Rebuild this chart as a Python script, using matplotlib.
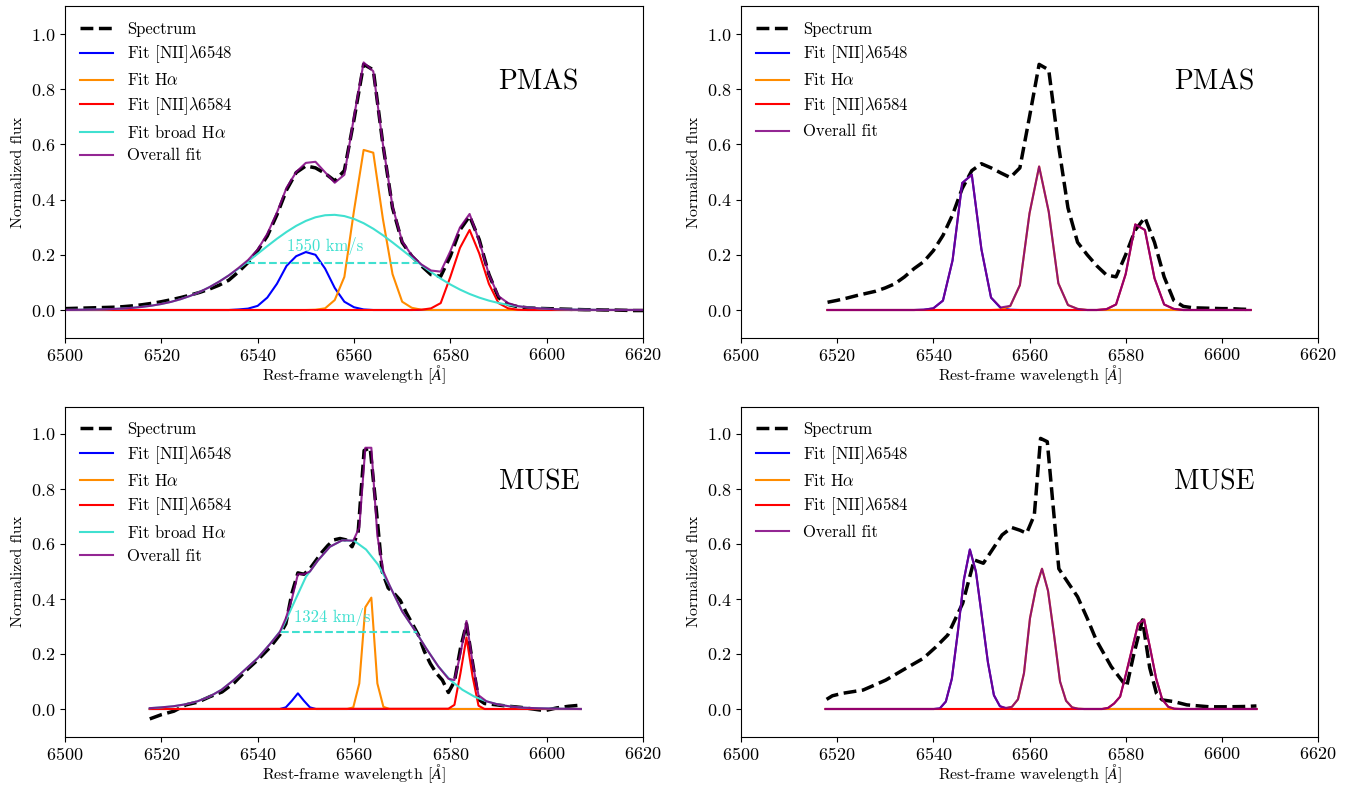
import matplotlib
matplotlib.use('Agg')
import matplotlib.pyplot as plt

plt.rcParams.update({
    'font.family': 'serif',
    'font.serif': ['cmr10'],
    'mathtext.fontset': 'cm',
    'axes.formatter.use_mathtext': True,
    'axes.unicode_minus': False,
})

# ---------------- PMAS, fit with broad component (top left) ----------------
wl_pmas = [6500 + 2 * i for i in range(61)]
spec_pmas = [0.005, 0.006, 0.007, 0.008, 0.009, 0.010, 0.012, 0.015, 0.019, 0.024,
             0.030, 0.037, 0.045, 0.054, 0.064, 0.076, 0.090, 0.108, 0.138, 0.172,
             0.215, 0.268, 0.345, 0.435, 0.498, 0.522, 0.515, 0.495, 0.468, 0.505,
             0.690, 0.890, 0.870, 0.600, 0.370, 0.245, 0.195, 0.160, 0.128, 0.122,
             0.195, 0.290, 0.340, 0.255, 0.130, 0.045, 0.020, 0.012, 0.008, 0.006,
             0.005, 0.004, 0.003, 0.002, 0.001, 0.001, 0.000, 0.000, -0.001, -0.002,
             -0.002]
broad_pmas = [0.0004, 0.0006, 0.0010, 0.0016, 0.0024, 0.0037, 0.0054, 0.0079, 0.0113, 0.0158,
              0.0218, 0.0294, 0.0392, 0.0512, 0.0657, 0.0829, 0.1028, 0.1252, 0.1498, 0.1762,
              0.2037, 0.2313, 0.2582, 0.2830, 0.3049, 0.3228, 0.3359, 0.3433, 0.3448, 0.3403,
              0.3300, 0.3145, 0.2945, 0.2709, 0.2449, 0.2176, 0.1899, 0.1629, 0.1373, 0.1137,
              0.0925, 0.0740, 0.0581, 0.0449, 0.0340, 0.0254, 0.0186, 0.0134, 0.0095, 0.0066,
              0.0045, 0.0030, 0.0020, 0.0013, 0.0008, 0.0005, 0.0003, 0.0002, 0.0001, 0.0001,
              0.0000]
overall_pmas = [0.0004, 0.0006, 0.0010, 0.0016, 0.0024, 0.0037, 0.0054, 0.0079, 0.0113, 0.0158,
                0.0218, 0.0294, 0.0392, 0.0512, 0.0657, 0.0829, 0.1028, 0.1253, 0.152, 0.181,
                0.219, 0.276, 0.353, 0.443, 0.500, 0.533, 0.537, 0.499, 0.461, 0.490,
                0.700, 0.897, 0.865, 0.601, 0.375, 0.248, 0.198, 0.165, 0.143, 0.139,
                0.213, 0.299, 0.348, 0.250, 0.129, 0.050, 0.025, 0.014, 0.0095, 0.0066,
                0.0045, 0.0030, 0.0020, 0.0013, 0.0008, 0.0005, 0.0003, 0.0002, 0.0001, 0.0001,
                0.0000]
n6548_pmas_x = [6500, 6534, 6536, 6538, 6540, 6542, 6544, 6546, 6548, 6550, 6552, 6554,
                6556, 6558, 6560, 6562, 6564, 6620]
n6548_pmas_y = [0, 0, 0.002, 0.005, 0.015, 0.045, 0.095, 0.16, 0.195, 0.21, 0.20, 0.15,
                0.08, 0.03, 0.01, 0.002, 0, 0]
ha_pmas_x = [6500, 6550, 6552, 6554, 6556, 6558, 6560, 6562, 6564, 6566, 6568, 6570,
             6572, 6574, 6576, 6620]
ha_pmas_y = [0, 0, 0.001, 0.006, 0.036, 0.12, 0.36, 0.58, 0.57, 0.33, 0.13, 0.03,
             0.008, 0.001, 0, 0]
n6584_pmas_x = [6500, 6572, 6574, 6576, 6578, 6580, 6582, 6584, 6586, 6588, 6590, 6592,
                6594, 6596, 6620]
n6584_pmas_y = [0, 0, 0.001, 0.006, 0.025, 0.12, 0.225, 0.29, 0.205, 0.095, 0.025, 0.006,
                0.001, 0, 0]
fwhm_pmas_x = [6537.7, 6573.3]
fwhm_pmas_y = [0.172, 0.172]
fwhm_pmas_txt = '1550 km/s'
fwhm_pmas_pos = (6554.0, 0.215)

# ---------------- PMAS, narrow only (top right) ----------------
wl_pmas_r = [6518 + 2 * i for i in range(45)]
spec_pmas_r = [0.028, 0.035, 0.043, 0.052, 0.060, 0.068, 0.080, 0.095, 0.120, 0.150,
               0.175, 0.215, 0.270, 0.345, 0.440, 0.505, 0.530, 0.515, 0.497, 0.480,
               0.515, 0.700, 0.890, 0.870, 0.600, 0.370, 0.245, 0.200, 0.160, 0.127,
               0.120, 0.200, 0.290, 0.335, 0.245, 0.120, 0.035, 0.013, 0.008, 0.007,
               0.006, 0.005, 0.005, 0.003, 0.002]
n6548_pmas_r_x = [6518, 6536, 6538, 6540, 6542, 6544, 6546, 6548, 6550, 6552, 6554, 6556, 6558, 6606]
n6548_pmas_r_y = [0, 0, 0.001, 0.006, 0.034, 0.18, 0.46, 0.49, 0.22, 0.045, 0.007, 0.001, 0, 0]
ha_pmas_r_x = [6518, 6552, 6554, 6556, 6558, 6560, 6562, 6564, 6566, 6568, 6570, 6572, 6606]
ha_pmas_r_y = [0, 0, 0.002, 0.014, 0.09, 0.35, 0.52, 0.356, 0.097, 0.018, 0.004, 0, 0]
n6584_pmas_r_x = [6518, 6574, 6576, 6578, 6580, 6582, 6584, 6586, 6588, 6590, 6592, 6606]
n6584_pmas_r_y = [0, 0, 0.003, 0.02, 0.13, 0.31, 0.29, 0.115, 0.02, 0.004, 0, 0]
overall_pmas_r_x = [6518, 6536, 6538, 6540, 6542, 6544, 6546, 6548, 6550, 6552, 6554, 6556,
                    6558, 6560, 6562, 6564, 6566, 6568, 6570, 6572, 6574, 6576, 6578, 6580,
                    6582, 6584, 6586, 6588, 6590, 6592, 6606]
overall_pmas_r_y = [0, 0, 0.001, 0.006, 0.034, 0.18, 0.46, 0.49, 0.22, 0.045, 0.009, 0.015,
                    0.09, 0.35, 0.52, 0.356, 0.097, 0.018, 0.004, 0, 0, 0.003, 0.02, 0.13,
                    0.31, 0.29, 0.115, 0.02, 0.004, 0, 0]

# ---------------- MUSE, fit with broad component (bottom left) ----------------
spec_muse_x = [6517.6, 6520.1, 6522.6, 6525.1, 6527.6, 6530.1, 6532.6, 6535.1, 6537.6, 6540.1,
               6542.6, 6544.6, 6545.85, 6547.1, 6548.35, 6549.6, 6550.85, 6552.1, 6553.35,
               6554.6, 6555.85, 6557.1, 6558.35, 6559.6, 6560.85, 6562.1, 6563.35, 6564.6,
               6565.85, 6567.1, 6568.35, 6569.6, 6570.85, 6572.1, 6573.35, 6574.6, 6575.85,
               6577.1, 6578.35, 6579.6, 6580.85, 6582.1, 6583.35, 6584.6, 6585.85, 6587.1,
               6589.6, 6592.1, 6594.6, 6597.1, 6599.6, 6602.1, 6604.6, 6607.1]
spec_muse_y = [-0.036, -0.02, -0.008, 0.015, 0.025, 0.045, 0.062, 0.095, 0.14, 0.18,
               0.225, 0.27, 0.31, 0.42, 0.495, 0.49, 0.51, 0.54, 0.57,
               0.595, 0.615, 0.62, 0.615, 0.59, 0.64, 0.94, 0.95, 0.73,
               0.5, 0.44, 0.42, 0.395, 0.35, 0.31, 0.27, 0.21, 0.165,
               0.13, 0.105, 0.06, 0.1, 0.22, 0.31, 0.17, 0.035, 0.02,
               0.015, 0.01, 0.006, 0.0, -0.006, 0.004, 0.01, 0.014]
broad_muse_x = [6517.6, 6520, 6522.5, 6525, 6527.5, 6530, 6532.5, 6535, 6537.5, 6540,
                6542.5, 6545, 6547.5, 6550, 6552.5, 6555, 6557.5, 6560, 6562.5, 6565,
                6567.5, 6570, 6572.5, 6575, 6577.5, 6580, 6582.5, 6585, 6587.5, 6590,
                6592.5, 6595, 6597.5, 6600, 6602.5, 6607.1]
broad_muse_y = [0.003, 0.006, 0.010, 0.017, 0.028, 0.045, 0.07, 0.105, 0.145, 0.185,
                0.235, 0.29, 0.385, 0.48, 0.54, 0.59, 0.613, 0.612, 0.58, 0.525,
                0.445, 0.355, 0.29, 0.22, 0.155, 0.105, 0.07, 0.045, 0.028, 0.016,
                0.009, 0.005, 0.003, 0.002, 0.001, 0.0]
overall_muse_x = [6517.6, 6520, 6522.5, 6525, 6527.5, 6530, 6532.5, 6535, 6537.5, 6540,
                  6542.5, 6544.6, 6545.85, 6547.1, 6548.35, 6549.6, 6550.85, 6552.5, 6555,
                  6557.5, 6558.6, 6559.85, 6561.1, 6562.35, 6563.6, 6564.85, 6566.1, 6567.5,
                  6570, 6572.5, 6575, 6577.5, 6579.6, 6580.85, 6582.1, 6583.35, 6584.6,
                  6585.85, 6587.5, 6590, 6592.5, 6595, 6597.5, 6600, 6602.5, 6607.1]
overall_muse_y = [0.003, 0.006, 0.010, 0.017, 0.028, 0.045, 0.07, 0.105, 0.145, 0.185,
                  0.235, 0.28, 0.33, 0.40, 0.49, 0.49, 0.50, 0.54, 0.59,
                  0.613, 0.613, 0.612, 0.66, 0.95, 0.95, 0.63, 0.50, 0.445,
                  0.355, 0.29, 0.22, 0.155, 0.11, 0.105, 0.20, 0.32, 0.17,
                  0.05, 0.028, 0.016, 0.009, 0.005, 0.003, 0.002, 0.001, 0.0]
n6548_muse_x = [6517.6, 6544.6, 6545.85, 6547.1, 6548.35, 6549.6, 6550.85, 6552.1, 6607.1]
n6548_muse_y = [0, 0, 0.006, 0.03, 0.057, 0.03, 0.006, 0, 0]
ha_muse_x = [6517.6, 6558.6, 6559.85, 6561.1, 6562.35, 6563.6, 6564.85, 6566.1, 6567.35, 6607.1]
ha_muse_y = [0, 0, 0.006, 0.093, 0.37, 0.405, 0.093, 0.008, 0, 0]
n6584_muse_x = [6517.6, 6579.6, 6580.85, 6582.1, 6583.35, 6584.6, 6585.85, 6587.1, 6607.1]
n6584_muse_y = [0, 0.001, 0.015, 0.13, 0.26, 0.12, 0.012, 0, 0]
fwhm_muse_x = [6544.8, 6573.0]
fwhm_muse_y = [0.28, 0.28]
fwhm_muse_txt = '1324 km/s'
fwhm_muse_pos = (6555.4, 0.315)

# ---------------- MUSE, narrow only (bottom right) ----------------
spec_muse_r_x = [6517.8, 6519.0, 6521.1, 6525.4, 6527.5, 6530.1, 6534.0, 6537.9, 6540.5, 6543.0,
                 6546.1, 6548.5, 6550.4, 6552.3, 6554.3, 6556.3, 6558.0, 6559.4, 6561.0, 6562.3,
                 6563.7, 6566.1, 6568.0, 6570.0, 6572.0, 6573.9, 6577.0, 6580.2, 6581.7, 6583.5,
                 6585.0, 6586.4, 6587.6, 6590.0, 6592.7, 6597.4, 6601.3, 6604.5, 6607.2]
spec_muse_r_y = [0.035, 0.048, 0.057, 0.069, 0.085, 0.105, 0.145, 0.184, 0.225, 0.269,
                 0.384, 0.542, 0.53, 0.58, 0.633, 0.66, 0.65, 0.639, 0.705, 0.984,
                 0.972, 0.51, 0.46, 0.408, 0.33, 0.25, 0.154, 0.081, 0.2, 0.324,
                 0.15, 0.057, 0.033, 0.027, 0.015, 0.008, 0.008, 0.009, 0.011]
n6548_muse_r_x = [6517.6, 6540.1, 6541.35, 6542.6, 6543.85, 6545.1, 6546.35, 6547.6, 6548.85,
                  6550.1, 6551.35, 6552.6, 6553.85, 6555.1, 6556.35, 6607.2]
n6548_muse_r_y = [0, 0, 0.002, 0.027, 0.11, 0.28, 0.47, 0.58, 0.5,
                  0.336, 0.17, 0.05, 0.01, 0.002, 0, 0]
ha_muse_r_x = [6517.6, 6553.85, 6555.1, 6556.35, 6557.6, 6558.85, 6560.1, 6561.35, 6562.6,
               6563.85, 6565.1, 6566.35, 6567.6, 6568.85, 6570.1, 6571.35, 6607.2]
ha_muse_r_y = [0, 0, 0.002, 0.008, 0.035, 0.13, 0.33, 0.44, 0.51,
               0.43, 0.27, 0.1, 0.03, 0.006, 0.001, 0, 0]
n6584_muse_r_x = [6517.6, 6575.1, 6576.35, 6577.6, 6578.85, 6580.1, 6581.35, 6582.6, 6583.85,
                  6585.1, 6586.35, 6587.6, 6588.85, 6590.1, 6591.35, 6607.2]
n6584_muse_r_y = [0, 0, 0.004, 0.02, 0.045, 0.13, 0.22, 0.31, 0.325,
                  0.22, 0.11, 0.035, 0.008, 0.001, 0, 0]
overall_muse_r_x = [6517.6, 6540.1, 6541.35, 6542.6, 6543.85, 6545.1, 6546.35, 6547.6, 6548.85,
                    6550.1, 6551.35, 6552.6, 6553.85, 6555.1, 6556.35, 6557.6, 6558.85, 6560.1,
                    6561.35, 6562.6, 6563.85, 6565.1, 6566.35, 6567.6, 6568.85, 6570.1, 6571.35,
                    6575.1, 6576.35, 6577.6, 6578.85, 6580.1, 6581.35, 6582.6, 6583.85, 6585.1,
                    6586.35, 6587.6, 6588.85, 6590.1, 6591.35, 6607.2]
overall_muse_r_y = [0, 0, 0.002, 0.027, 0.11, 0.28, 0.47, 0.58, 0.5,
                    0.336, 0.17, 0.05, 0.01, 0.004, 0.008, 0.035, 0.13, 0.33,
                    0.44, 0.51, 0.43, 0.27, 0.1, 0.03, 0.006, 0.001, 0,
                    0, 0.004, 0.02, 0.045, 0.13, 0.22, 0.31, 0.325, 0.22,
                    0.11, 0.035, 0.008, 0.001, 0, 0]


def draw_panel(ax, spec, comps, overall, instrument, broad=None, fwhm=None):
    ax.plot(spec[0], spec[1], 'k--', lw=2.5, label='Spectrum')
    ax.plot(comps[0][0], comps[0][1], color='blue', lw=1.5,
            label=r'Fit $\mathrm{[NII]}\lambda\mathrm{6548}$')
    ax.plot(comps[1][0], comps[1][1], color='darkorange', lw=1.5, label=r'Fit H$\alpha$')
    ax.plot(comps[2][0], comps[2][1], color='red', lw=1.5,
            label=r'Fit $\mathrm{[NII]}\lambda\mathrm{6584}$')
    if broad is not None:
        ax.plot(broad[0], broad[1], color='turquoise', lw=1.5, label=r'Fit broad H$\alpha$')
    ax.plot(overall[0], overall[1], color='purple', lw=1.5, alpha=0.85, label='Overall fit')
    if fwhm is not None:
        ax.plot(fwhm[0], fwhm[1], color='turquoise', ls='--', lw=1.5)
        ax.text(fwhm[3][0], fwhm[3][1], fwhm[2], color='turquoise', fontsize=12,
                ha='center', va='baseline')
    ax.text(0.75, 0.75, instrument, transform=ax.transAxes, fontsize=20)
    ax.set_xlim(6500, 6620)
    ax.set_ylim(-0.1, 1.1)
    ax.set_xticks([6500, 6520, 6540, 6560, 6580, 6600, 6620])
    ax.set_yticks([0.0, 0.2, 0.4, 0.6, 0.8, 1.0])
    ax.tick_params(labelsize=13)
    ax.set_xlabel(r'Rest-frame wavelength [$\AA$]', fontsize=11.5, labelpad=-0.5)
    ax.set_ylabel('Normalized flux', fontsize=11.5)
    ax.legend(loc='upper left', frameon=False, fontsize=12, labelspacing=0.42)


fig = plt.figure(figsize=(13.48, 7.87), dpi=100)
W, H = 1348.0, 787.0
ax1 = fig.add_axes([65 / W, 1 - 337.6 / H, 578 / W, 331.2 / H])
ax2 = fig.add_axes([741 / W, 1 - 337.6 / H, 577 / W, 331.2 / H])
ax3 = fig.add_axes([65 / W, 1 - 736.5 / H, 578 / W, 330 / H])
ax4 = fig.add_axes([741 / W, 1 - 736.5 / H, 577 / W, 330 / H])

draw_panel(ax1, (wl_pmas, spec_pmas),
           [(n6548_pmas_x, n6548_pmas_y), (ha_pmas_x, ha_pmas_y), (n6584_pmas_x, n6584_pmas_y)],
           (wl_pmas, overall_pmas), 'PMAS', broad=(wl_pmas, broad_pmas),
           fwhm=(fwhm_pmas_x, fwhm_pmas_y, fwhm_pmas_txt, fwhm_pmas_pos))
draw_panel(ax2, (wl_pmas_r, spec_pmas_r),
           [(n6548_pmas_r_x, n6548_pmas_r_y), (ha_pmas_r_x, ha_pmas_r_y), (n6584_pmas_r_x, n6584_pmas_r_y)],
           (overall_pmas_r_x, overall_pmas_r_y), 'PMAS')
draw_panel(ax3, (spec_muse_x, spec_muse_y),
           [(n6548_muse_x, n6548_muse_y), (ha_muse_x, ha_muse_y), (n6584_muse_x, n6584_muse_y)],
           (overall_muse_x, overall_muse_y), 'MUSE', broad=(broad_muse_x, broad_muse_y),
           fwhm=(fwhm_muse_x, fwhm_muse_y, fwhm_muse_txt, fwhm_muse_pos))
draw_panel(ax4, (spec_muse_r_x, spec_muse_r_y),
           [(n6548_muse_r_x, n6548_muse_r_y), (ha_muse_r_x, ha_muse_r_y), (n6584_muse_r_x, n6584_muse_r_y)],
           (overall_muse_r_x, overall_muse_r_y), 'MUSE')

fig.savefig('out.png', dpi=100)
